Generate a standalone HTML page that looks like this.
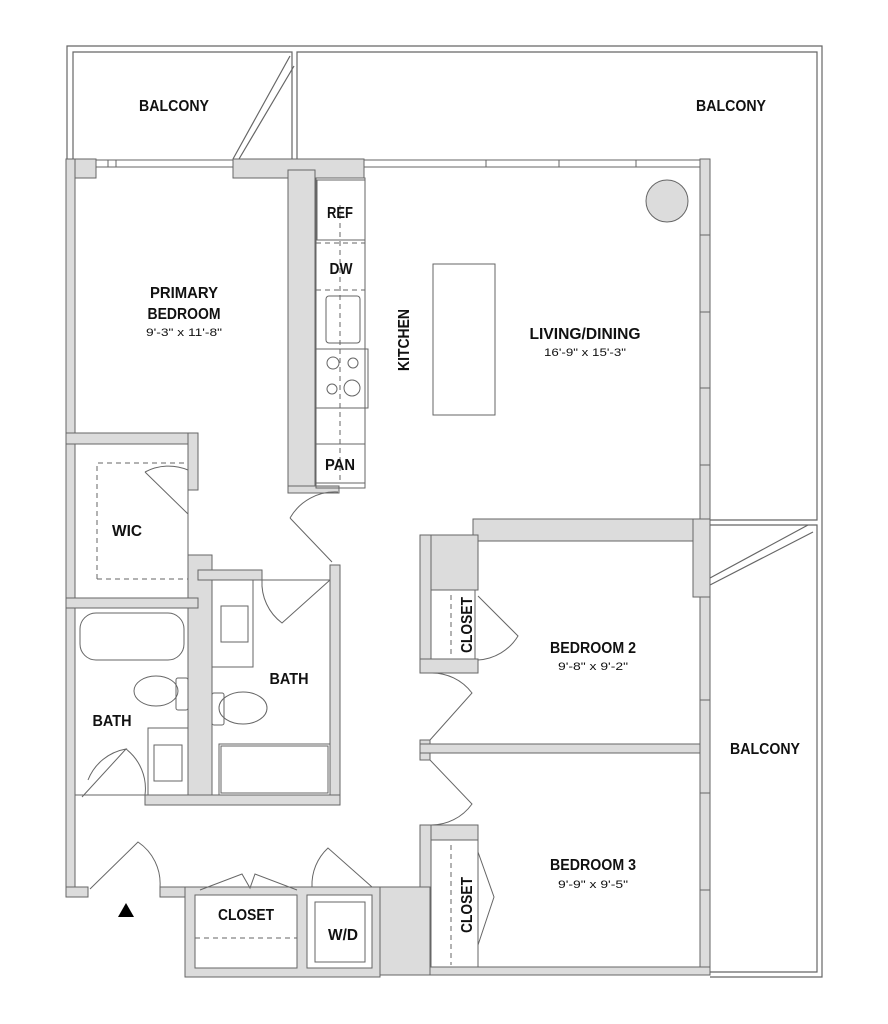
<!DOCTYPE html>
<html><head><meta charset="utf-8"><style>
html,body{margin:0;padding:0;background:#fff}
svg{display:block}
text{font-family:"Liberation Sans Narrow","Liberation Sans",sans-serif;font-weight:bold;fill:#111}
.d{font-weight:normal;font-size:11px}
.l{font-size:16px}
</style></head><body>
<svg width="888" height="1024" viewBox="0 0 888 1024" xmlns="http://www.w3.org/2000/svg">
<g fill="none" stroke="#666" stroke-width="1.2">
<path d="M67,159 V46 H822 V977 H710"/>
<path d="M73,159 V52 H292 V159 M297,159 V52 H817 V520 H710 M710,525 H817 V972 H710"/>
<path d="M233,159 L290,56 M239,159 L294,66"/>
<path d="M710,578 L808,525 M710,585 L813,532"/>
</g>
<g fill="#dcdcdc" stroke="#666" stroke-width="1">
<rect x="66" y="159" width="30" height="19"/>
<rect x="66" y="159" width="9" height="738"/>
<rect x="233" y="159" width="131" height="19"/>
<rect x="288" y="170" width="27" height="322"/>
<rect x="288" y="486" width="51" height="7"/>
<rect x="700" y="159" width="10" height="361"/>
<rect x="473" y="519" width="237" height="22"/>
<rect x="693" y="519" width="17" height="78"/>
<rect x="420" y="535" width="58" height="55"/>
<rect x="420" y="535" width="11" height="138"/>
<rect x="420" y="659" width="58" height="14"/>
<rect x="420" y="740" width="10" height="20"/>
<rect x="420" y="744" width="290" height="9"/>
<rect x="700" y="597" width="10" height="378"/>
<rect x="420" y="825" width="58" height="15"/>
<rect x="420" y="825" width="11" height="150"/>
<rect x="420" y="967" width="290" height="8"/>
<rect x="372" y="887" width="58" height="88"/>
<rect x="66" y="887" width="22" height="10"/>
<rect x="160" y="887" width="50" height="10"/>
<rect x="185" y="887" width="195" height="90"/>
<rect x="66" y="433" width="132" height="11"/>
<rect x="188" y="433" width="10" height="57"/>
<rect x="188" y="555" width="24" height="250"/>
<rect x="198" y="570" width="64" height="10"/>
<rect x="330" y="565" width="10" height="240"/>
<rect x="145" y="795" width="195" height="10"/>
<rect x="66" y="598" width="132" height="10"/>
</g>
<g fill="#fff" stroke="#666" stroke-width="1">
<rect x="75" y="444" width="113" height="154"/>
<rect x="195" y="895" width="102" height="73"/>
<rect x="307" y="895" width="65" height="73"/>
<rect x="431" y="590" width="44" height="69"/>
<rect x="431" y="840" width="47" height="127"/>
<rect x="212" y="580" width="118" height="215"/>
<rect x="75" y="608" width="113" height="187"/>
</g>
<g fill="none" stroke="#666" stroke-width="1">
<path d="M96,160 H233 M96,167 H233 M108,160 V167 M116,160 V167"/>
<path d="M364,160 H700 M364,167 H700 M486,160 V167 M559,160 V167 M636,160 V167"/>
<path d="M700,235 H710 M700,312 H710 M700,388 H710 M700,465 H710 M700,700 H710 M700,793 H710 M700,890 H710"/>
<rect x="316" y="178" width="49" height="310"/>
<rect x="317" y="180" width="48" height="60"/>
<rect x="316" y="349" width="52" height="59"/>
<rect x="316" y="444" width="49" height="39"/>
<rect x="326" y="296" width="34" height="47" rx="3"/>
<circle cx="333" cy="363" r="6"/><circle cx="353" cy="363" r="5"/>
<circle cx="332" cy="389" r="5"/><circle cx="352" cy="388" r="8"/>
<rect x="433" y="264" width="62" height="151"/>
<rect x="80" y="613" width="104" height="47" rx="16"/>
<ellipse cx="156" cy="691" rx="22" ry="15"/><rect x="176" y="678" width="12" height="32" rx="2"/>
<ellipse cx="243" cy="708" rx="24" ry="16"/><rect x="212" y="693" width="12" height="32" rx="2"/>
<rect x="148" y="728" width="40" height="67"/><rect x="154" y="745" width="28" height="36"/>
<rect x="212" y="580" width="41" height="87"/><rect x="221" y="606" width="27" height="36"/>
<rect x="219" y="744" width="111" height="51"/><rect x="221" y="746" width="107" height="47"/>
<rect x="315" y="902" width="50" height="60"/>
<path stroke-dasharray="5,4" d="M97,579 V463 H188 M97,579 H188 M340,205 V483 M316,243 H365 M316,290 H365 M195,938 H297 M451,595 V657 M451,845 V965"/>
<path d="M145,472 A50,50 0 0 1 188,470 M145,472 L188,514"/>
<path d="M290,518 A52,52 0 0 1 338,492 M290,518 L332,562"/>
<path d="M262,580 A50,50 0 0 0 282,623 L330,580"/>
<path d="M88,780 A50,50 0 0 1 126,749 L82,797"/>
<path d="M126,749 A50,50 0 0 1 145,795"/>
<path d="M90,889 L138,842 A50,50 0 0 1 160,887"/>
<path d="M200,890 L242,874 L250,888 L255,874 L297,890"/>
<path d="M312,887 A50,50 0 0 1 328,848 L372,887"/>
<path d="M478,596 L518,636 A50,50 0 0 1 478,660"/>
<path d="M430,673 A50,50 0 0 1 472,693 L430,740"/>
<path d="M430,760 L472,804 A50,50 0 0 1 430,825"/>
<path d="M478,852 L494,897 L478,945"/>
</g>
<circle cx="667" cy="201" r="21" fill="#dcdcdc" stroke="#666"/>
<polygon points="126,903 118,917 134,917" fill="#000"/>
<g lengthAdjust="spacingAndGlyphs">
<text class="l" x="174" y="111" text-anchor="middle" textLength="70" lengthAdjust="spacingAndGlyphs">BALCONY</text>
<text class="l" x="731" y="111" text-anchor="middle" textLength="70" lengthAdjust="spacingAndGlyphs">BALCONY</text>
<text class="l" x="765" y="754" text-anchor="middle" textLength="70" lengthAdjust="spacingAndGlyphs">BALCONY</text>
<text class="l" x="184" y="298" text-anchor="middle" textLength="68" lengthAdjust="spacingAndGlyphs">PRIMARY</text>
<text class="l" x="184" y="319" text-anchor="middle" textLength="73" lengthAdjust="spacingAndGlyphs">BEDROOM</text>
<text class="d" x="184" y="336" text-anchor="middle" textLength="76" lengthAdjust="spacingAndGlyphs">9'-3" x 11'-8"</text>
<text class="l" x="340" y="218" text-anchor="middle" textLength="26" lengthAdjust="spacingAndGlyphs">REF</text>
<text class="l" x="341" y="274" text-anchor="middle" textLength="23" lengthAdjust="spacingAndGlyphs">DW</text>
<text class="l" x="340" y="470" text-anchor="middle" textLength="30" lengthAdjust="spacingAndGlyphs">PAN</text>
<text class="l" transform="translate(409,340) rotate(-90)" text-anchor="middle" textLength="62" lengthAdjust="spacingAndGlyphs">KITCHEN</text>
<text class="l" x="585" y="339" text-anchor="middle" textLength="111" lengthAdjust="spacingAndGlyphs">LIVING/DINING</text>
<text class="d" x="585" y="356" text-anchor="middle" textLength="82" lengthAdjust="spacingAndGlyphs">16'-9" x 15'-3"</text>
<text class="l" x="127" y="536" text-anchor="middle" textLength="30" lengthAdjust="spacingAndGlyphs">WIC</text>
<text class="l" x="289" y="684" text-anchor="middle" textLength="39" lengthAdjust="spacingAndGlyphs">BATH</text>
<text class="l" x="112" y="726" text-anchor="middle" textLength="39" lengthAdjust="spacingAndGlyphs">BATH</text>
<text class="l" x="593" y="653" text-anchor="middle" textLength="86" lengthAdjust="spacingAndGlyphs">BEDROOM 2</text>
<text class="d" x="593" y="670" text-anchor="middle" textLength="70" lengthAdjust="spacingAndGlyphs">9'-8" x 9'-2"</text>
<text class="l" x="593" y="870" text-anchor="middle" textLength="86" lengthAdjust="spacingAndGlyphs">BEDROOM 3</text>
<text class="d" x="593" y="888" text-anchor="middle" textLength="70" lengthAdjust="spacingAndGlyphs">9'-9" x 9'-5"</text>
<text class="l" transform="translate(472,625) rotate(-90)" text-anchor="middle" textLength="56" lengthAdjust="spacingAndGlyphs">CLOSET</text>
<text class="l" transform="translate(472,905) rotate(-90)" text-anchor="middle" textLength="56" lengthAdjust="spacingAndGlyphs">CLOSET</text>
<text class="l" x="246" y="920" text-anchor="middle" textLength="56" lengthAdjust="spacingAndGlyphs">CLOSET</text>
<text class="l" x="343" y="940" text-anchor="middle" textLength="30" lengthAdjust="spacingAndGlyphs">W/D</text>
</g>
</svg>
</body></html>
